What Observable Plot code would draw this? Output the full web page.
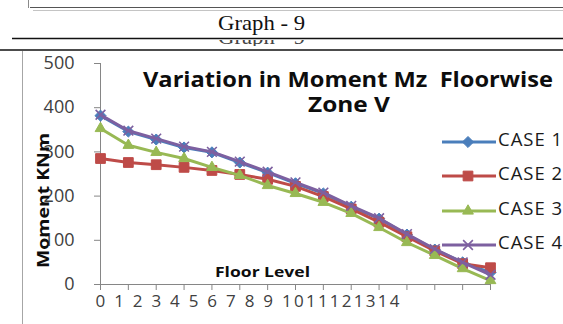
<!DOCTYPE html>
<html>
<head>
<meta charset="utf-8">
<script src="https://cdn.jsdelivr.net/npm/d3@7"></script>
<script src="https://cdn.jsdelivr.net/npm/@observablehq/plot@0.6"></script>
<style>
  html, body { margin: 0; padding: 0; background: #fff; }
  #wrap { position: relative; width: 563px; height: 324px; overflow: hidden; background: #fff; }
  #wrap > svg { position: absolute; left: 0; top: 0; }
</style>
</head>
<body>
<div id="wrap"></div>
<script>
// ---- data ----
const floors = [0, 1, 2, 3, 4, 5, 6, 7, 8, 9, 10, 11, 12, 13, 14];
const tickLabels = ["0","1","2","3","4","5","6","7","8","9","10","11","12","13","14"];
const case1 = [382, 346, 328, 310, 299, 276, 253, 229, 206, 176, 149, 113, 79, 50, 27];
const case2 = [285, 276, 271, 265, 258, 249, 238, 222, 199, 171, 141, 108, 76, 47, 38];
const case3 = [353, 315, 299, 285, 265, 247, 224, 206, 186, 161, 129, 95, 66, 36, 9];
const case4 = [384, 348, 330, 312, 300, 278, 255, 231, 208, 178, 150, 114, 80, 50, 22];
const seriesNames = ["CASE 1", "CASE 2", "CASE 3", "CASE 4"];
const yTicks = [0, 100, 200, 300, 400, 500];
const titleLine1 = "Variation in Moment Mz  Floorwise";
const titleLine2 = "Zone V";
const xTitle = "Floor Level";
const yTitle = "Moment KNm";
const pageCaption = "Graph - 9";

// ---- styles ----
const colors = ["#4A7EBB", "#BE4B48", "#98B954", "#7D60A0"];
const symbols = ["diamond2", "square", "triangle", "times"];
const radii = [5, 5.5, 4, 4.5];

const seriesValues = [case1, case2, case3, case4];
const rows = seriesValues.map((vals, s) => floors.map((f, i) => ({floor: f, value: vals[i], series: seriesNames[s]})));

const seriesMarks = rows.flatMap((data, s) => [
  Plot.line(data, {x: "floor", y: "value", stroke: colors[s], strokeWidth: 3}),
  Plot.dot(data, {
    x: "floor", y: "value", symbol: () => symbols[s], r: radii[s],
    fill: symbols[s] === "times" ? "none" : colors[s],
    stroke: colors[s], strokeWidth: symbols[s] === "times" ? 1.6 : 1
  })
]);

const xLabelString = tickLabels.map((t) => t.length < 2 ? t + " " : t).join("");

const chart = Plot.plot({
  width: 563,
  height: 324,
  marginLeft: 100,
  marginRight: 73,
  marginTop: 63,
  marginBottom: 40,
  style: {background: "transparent", fontFamily: "'Open Sans', sans-serif", overflow: "visible"},
  x: {domain: [0, 14], label: null},
  y: {domain: [0, 500], label: null},
  symbol: {type: "identity"},
  marks: [
    Plot.ruleX([0], {stroke: "#868686"}),
    Plot.ruleY([0], {stroke: "#868686"}),
    Plot.axisY({ticks: yTicks, tickSize: 6, tickPadding: 20, fontSize: 18, stroke: "#868686", fill: "#404040", label: null}),
    Plot.axisX({ticks: floors, tickSize: 6, tickFormat: () => "", stroke: "#868686", label: null}),
    Plot.text([xLabelString], {
      x: () => floors[0], frameAnchor: "bottom", textAnchor: "start",
      dx: -5, dy: 22, fontSize: 17, fill: "#404040"
    }),
    ...seriesMarks
  ]
});

d3.select(chart).selectAll("text")
  .filter(function() { return this.textContent === xLabelString; })
  .style("white-space", "pre")
  .attr("textLength", 304).attr("lengthAdjust", "spacing");

const wrap = d3.select("#wrap");
wrap.append(() => chart);

// ---- overlay: page frame, titles, legend ----
const ov = wrap.append("svg").attr("width", 563).attr("height", 324).style("pointer-events", "none");

const line = (x1, y1, x2, y2, stroke, w) =>
  ov.append("line").attr("x1", x1).attr("y1", y1).attr("x2", x2).attr("y2", y2)
    .attr("stroke", stroke).attr("stroke-width", w);

line(28.5, 0, 28.5, 8, "#8a8a8a", 1);
line(30, 7.5, 563, 7.5, "#555", 1);
line(33, 10.5, 563, 10.5, "#c4c4c4", 1);
ov.append("text").attr("x", 218).attr("y", 30)
  .attr("font-family", "'Liberation Serif', serif").attr("font-size", 21).attr("fill", "#111")
  .attr("textLength", 87).attr("lengthAdjust", "spacingAndGlyphs").text(pageCaption);
line(12, 38.5, 563, 38.5, "#111", 1.6);
ov.append("clipPath").attr("id", "ghost").append("rect").attr("x", 0).attr("y", 40).attr("width", 563).attr("height", 6);
ov.append("text").attr("clip-path", "url(#ghost)").attr("x", 218).attr("y", 44)
  .attr("font-family", "'Liberation Serif', serif").attr("font-size", 21).attr("fill", "#444")
  .attr("textLength", 87).attr("lengthAdjust", "spacingAndGlyphs").text(pageCaption);
line(0, 50, 563, 50, "#111", 1.6);
line(22.5, 51, 22.5, 324, "#a6a6a6", 1);

const boldText = (txt, x, y, size, len) =>
  ov.append("text").attr("x", x).attr("y", y)
    .attr("font-family", "'Open Sans', sans-serif").attr("font-weight", 700)
    .attr("font-size", size).attr("fill", "#0d0d0d").style("white-space", "pre")
    .attr("textLength", len).attr("lengthAdjust", "spacingAndGlyphs").text(txt);

boldText(titleLine1, 143, 87, 21, 410);
boldText(titleLine2, 308, 112, 21, 82);
boldText(xTitle, 215, 277, 15, 95);
boldText(yTitle, 0, 0, 16, 135).attr("transform", "translate(49,268) rotate(-90)");

// legend
const legendY = [142, 176, 211, 245];
const symMap = {diamond2: d3.symbolDiamond2, square: d3.symbolSquare, triangle: d3.symbolTriangle, times: d3.symbolTimes};
seriesNames.forEach((name, s) => {
  const g = ov.append("g").attr("transform", `translate(0,${legendY[s]})`);
  g.append("line").attr("x1", 442).attr("x2", 496).attr("y1", 0).attr("y2", 0)
    .attr("stroke", colors[s]).attr("stroke-width", 3);
  g.append("path").attr("transform", "translate(468,0)")
    .attr("d", d3.symbol(symMap[symbols[s]], Math.PI * radii[s] * radii[s])())
    .attr("fill", symbols[s] === "times" ? "none" : colors[s])
    .attr("stroke", colors[s]).attr("stroke-width", symbols[s] === "times" ? 1.6 : 1);
  g.append("text").attr("x", 498).attr("y", -2).attr("dy", "0.35em")
    .attr("font-family", "'Open Sans', sans-serif").attr("font-size", 18.5)
    .attr("fill", "#1a1a1a").style("letter-spacing", "1px").text(name);
});
</script>
</body>
</html>
